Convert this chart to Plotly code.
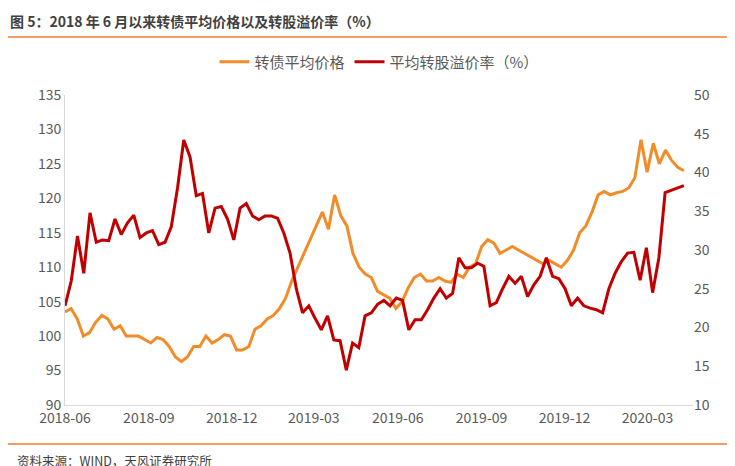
import pandas as pd
import plotly.graph_objects as go

price = [103.5,104,102.5,100,100.5,102,103,102.5,101,101.5,100,100,100,99.5,99,99.8,99.5,98.5,97,96.3,97,98.5,98.5,100,99,99.5,100.2,100,98,98,98.5,101,101.5,102.5,103,104,105.5,108,110,112,114,116,118,115.5,120.5,117.5,116,112,110,109,108.5,106.5,106,105.5,104,105,107,108.5,109,108,108,108.5,108,107.8,109,108.5,110,110.5,113,114,113.5,112,112.5,113,112.5,112,111.5,111,110.5,111,110.5,110,111,112.5,115,116,118,120.5,121,120.5,120.8,121,121.5,123,128.5,123.8,128,125,127,125.5,124.5,124]
premium = [22.8,26,31.8,27,34.8,31,31.3,31.2,34,32,33.5,34.5,31.6,32.2,32.5,30.7,31,33,38,44.2,42,37,37.3,32.2,35.4,35.6,34,31.3,35.4,36,34.4,33.9,34.4,34.4,34.1,32.2,29.6,25,21.9,22.8,21.2,19.7,21.5,18.4,18.3,14.5,18,17.4,21.5,21.9,23,23.5,22.8,23.8,23.5,19.7,21,21,22.3,23.8,25,23.8,24.4,29,27.7,27.7,28.3,27.9,22.8,23.2,25,26.6,25.7,26.6,24,25.5,26.6,29,26.6,26.3,25,22.8,23.8,22.8,22.5,22.3,21.9,25,27,28.5,29.6,29.7,26.1,30.3,24.5,29,37.4,37.7,38,38.3]
price_dates = pd.date_range("2018-06-01", "2020-04-10", periods=len(price))
prem_dates = pd.date_range("2018-06-01", "2020-04-10", periods=len(premium))

title = "图 5：2018 年 6 月以来转债平均价格以及转股溢价率（%）"
source = "资料来源：WIND，天风证券研究所"
left_ticks = list(range(90, 136, 5))
right_ticks = list(range(10, 51, 5))
x_ticks = ["2018-06-01","2018-09-01","2018-12-01","2019-03-01","2019-06-01","2019-09-01","2019-12-01","2020-03-01"]
x_labels = ["2018-06","2018-09","2018-12","2019-03","2019-06","2019-09","2019-12","2020-03"]

font = "Noto Sans CJK SC"
PW, PH = 628, 310
fig = go.Figure()
fig.add_trace(go.Scatter(x=price_dates, y=price, name="转债平均价格", mode="lines",
                         line=dict(color="#F28C28", width=3)))
fig.add_trace(go.Scatter(x=prem_dates, y=premium, name="平均转股溢价率（%）", mode="lines",
                         line=dict(color="#C00000", width=3), yaxis="y2"))
fig.update_layout(
    width=735, height=466, plot_bgcolor="white", paper_bgcolor="white",
    margin=dict(l=57, r=50, t=87, b=69, autoexpand=False),
    font=dict(family=font, color="#595959", size=14),
    showlegend=True,
    legend=dict(orientation="h", x=0.5, xanchor="center", y=1 + 33/PH, yanchor="middle",
                font=dict(size=15, color="#595959")),
    xaxis=dict(range=["2018-06-01", "2020-04-20"], tickvals=x_ticks, ticktext=x_labels,
               showgrid=False, showline=True, linecolor="#D9D9D9", ticks="", tickfont=dict(size=14)),
    yaxis=dict(range=[90, 135], tickvals=left_ticks, showgrid=False, showline=True,
               linecolor="#D9D9D9", ticks="", zeroline=False, tickfont=dict(size=14)),
    yaxis2=dict(range=[10, 50], tickvals=right_ticks, overlaying="y", side="right",
                showgrid=False, showline=False, zeroline=False, tickfont=dict(size=14)),
    annotations=[
        dict(text="<b>" + title + "</b>", xref="paper", yref="paper", x=-57/PW, y=1 + 74/PH,
             xanchor="left", yanchor="middle", showarrow=False,
             font=dict(size=14, color="#404040", family=font)),
        dict(text=source, xref="paper", yref="paper", x=-50/PW, y=-55/PH,
             xanchor="left", yanchor="middle", showarrow=False,
             font=dict(size=12.5, color="#404040", family=font)),
    ],
    shapes=[
        dict(type="line", xref="paper", yref="paper", x0=-57/PW, x1=(735-57)/PW,
             y0=1 + 58/PH, y1=1 + 58/PH, line=dict(color="#ED7D31", width=1.5)),
        dict(type="line", xref="paper", yref="paper", x0=-57/PW, x1=(735-57)/PW,
             y0=-39/PH, y1=-39/PH, line=dict(color="#ED7D31", width=1.5)),
    ],
)
fig.write_html("out.html")
